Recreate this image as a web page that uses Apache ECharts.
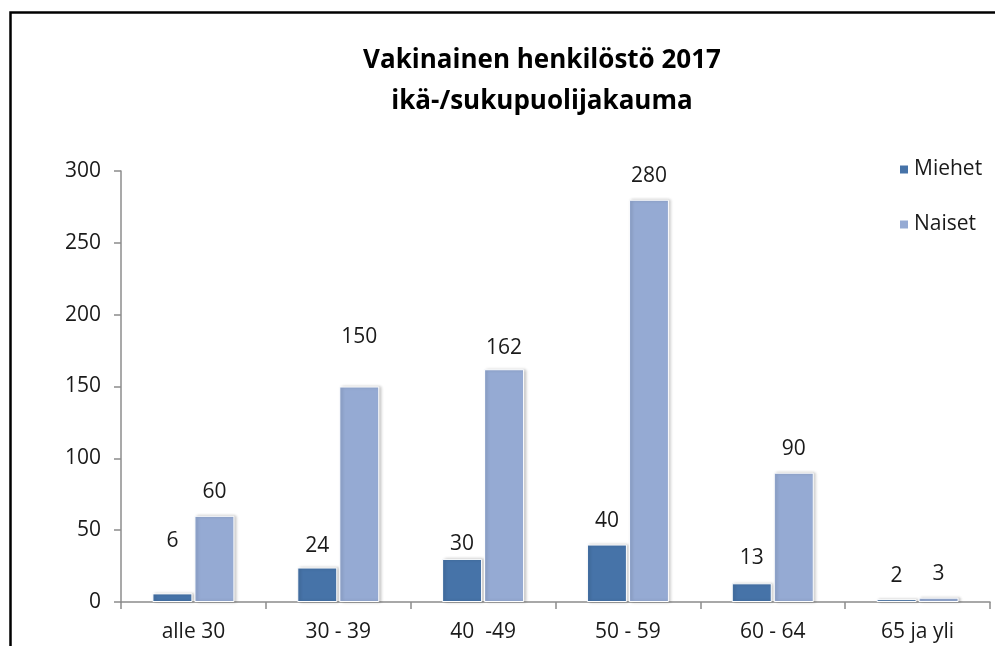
<!DOCTYPE html>
<html>
<head>
<meta charset="utf-8">
<title>Vakinainen henkilöstö 2017</title>
<script src="https://cdn.jsdelivr.net/npm/echarts@6/dist/echarts.min.js"></script>
<style>
    html, body {margin: 0; padding: 0; background: #fff;}
    #chart {width: 995px; height: 646px;}
</style>
</head>
<body>
<div id="chart"></div>
<script>
// 数据
const categories = ['alle 30', '30 - 39', '40  -49', '50 - 59', '60 - 64', '65 ja yli'];
const miehet = [6, 24, 30, 40, 13, 2];
const naiset = [60, 150, 162, 280, 90, 3];
const yTicks = [0, 50, 100, 150, 200, 250, 300];

const fontFamily = '"Open Sans", Lato, sans-serif';
const textColor = '#1a1a1a';
const textSize = 21;

// 标签偏移（原图中部分标签被手动挪过位置）
const miehetLabelDistance = [42, 11, 4, 13, 15, 13];
const naisetLabelDistance = [13, 39, 11, 13, 13, 13];

function buildData(values, distances) {
    return values.map((v, i) => ({
        value: v,
        label: {distance: distances[i]}
    }));
}

const barStyle = color => ({
    color: color,
    borderColor: '#fff',
    borderWidth: 1,
    shadowColor: 'rgba(0, 0, 0, 0.22)',
    shadowBlur: 3,
    shadowOffsetX: 2,
    shadowOffsetY: 0
});

const labelStyle = {
    show: true,
    position: 'top',
    color: textColor,
    fontSize: textSize,
    fontFamily: fontFamily
};

const axisLineStyle = {color: '#8c8c8c', width: 1.5};

const chart = echarts.init(document.getElementById('chart'));

chart.setOption({
    animation: false,
    backgroundColor: '#fff',
    title: {
        text: 'Vakinainen henkilöstö 2017\nikä-/sukupuolijakauma',
        left: 537,
        top: 35,
        textAlign: 'center',
        textStyle: {
            fontFamily: fontFamily,
            fontWeight: 'bold',
            fontSize: 26,
            lineHeight: 41,
            color: '#000'
        }
    },
    graphic: [{
        type: 'rect',
        left: 8,
        top: 10,
        shape: {width: 1200, height: 800},
        style: {fill: 'none', stroke: '#000', lineWidth: 2.5},
        silent: true
    }],
    legend: {
        orient: 'vertical',
        left: 893,
        top: 154,
        itemWidth: 10,
        itemHeight: 10,
        itemGap: 34,
        icon: 'rect',
        textStyle: {
            fontFamily: fontFamily,
            fontSize: textSize,
            color: textColor
        }
    },
    grid: {
        left: 121,
        right: 5,
        top: 171,
        bottom: 44,
        containLabel: false
    },
    xAxis: {
        type: 'category',
        data: categories,
        axisLine: {lineStyle: axisLineStyle},
        axisTick: {show: true, length: 7, lineStyle: axisLineStyle},
        axisLabel: {
            margin: 20,
            color: textColor,
            fontSize: textSize,
            fontFamily: fontFamily
        }
    },
    yAxis: {
        type: 'value',
        min: yTicks[0],
        max: yTicks[yTicks.length - 1],
        interval: yTicks[1] - yTicks[0],
        splitLine: {show: false},
        axisLine: {show: true, lineStyle: axisLineStyle},
        axisTick: {show: true, length: 7, lineStyle: axisLineStyle},
        axisLabel: {
            margin: 20,
            color: textColor,
            fontSize: textSize,
            fontFamily: fontFamily
        }
    },
    series: [
        {
            name: 'Miehet',
            type: 'bar',
            data: buildData(miehet, miehetLabelDistance),
            barWidth: 40,
            barGap: '5%',
            itemStyle: barStyle('#4673a8'),
            label: labelStyle
        },
        {
            name: 'Naiset',
            type: 'bar',
            data: buildData(naiset, naisetLabelDistance),
            barWidth: 40,
            itemStyle: barStyle('#95aad3'),
            label: labelStyle
        }
    ]
});
</script>
</body>
</html>
